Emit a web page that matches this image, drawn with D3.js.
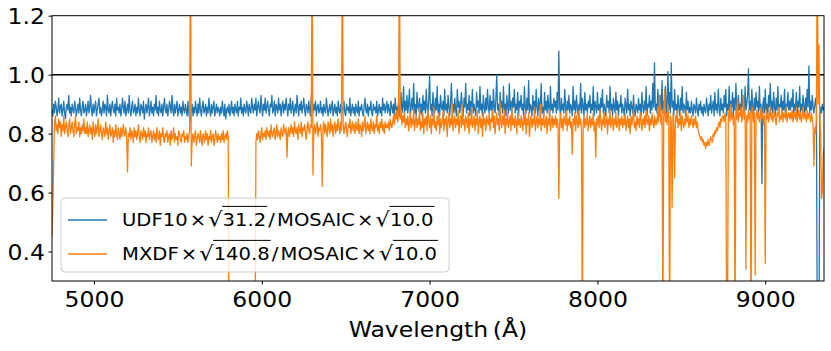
<!DOCTYPE html>
<html>
<head>
<meta charset="utf-8">
<script src="https://cdn.jsdelivr.net/npm/d3@7"></script>
<style>
  body { margin: 0; background: #fff; }
  svg { display: block; font-family: "DejaVu Sans", sans-serif; }
</style>
</head>
<body>
<div id="chart"></div>
<script>
// wavelength grid of the two ratio spectra (Angstrom)
const waveStart = 4750;
const waveStep = 5;

// UDF10 x sqrt(31.2) / MOSAIC x sqrt(10.0), one row per 100 A
const udf10 = [
  .88,.86,.90,.87,.91,.89,.86,.88,.92,.87,.89,.90,.86,.88,.91,.87,.85,.89,.90,.88,
  .93,.87,.89,.86,.90,.88,.87,.91,.89,.86,.88,.90,.87,.92,.88,.86,.89,.91,.87,.88,
  .90,.86,.88,.91,.87,.89,.93,.88,.86,.90,.87,.89,.91,.86,.88,.90,.92,.87,.89,.86,
  .88,.91,.87,.90,.89,.86,.93,.88,.87,.90,.86,.89,.91,.88,.87,.90,.86,.92,.88,.89,
  .87,.90,.86,.88,.92,.89,.87,.91,.86,.88,.90,.87,.93,.88,.86,.89,.91,.87,.88,.90,
  .86,.89,.87,.92,.88,.86,.90,.89,.87,.91,.85,.88,.90,.87,.89,.92,.86,.88,.91,.87,
  .89,.86,.90,.88,.93,.87,.89,.86,.91,.88,.87,.90,.86,.89,.92,.88,.87,.90,.86,.88,
  .91,.89,.87,.93,.88,.86,.90,.87,.89,.91,.86,.88,.90,.87,.89,.86,.91,.88,.87,.90,
  .88,.86,.91,.87,.85,.84,.88,.90,.86,.89,.87,.91,.88,.86,.90,.87,.92,.88,.86,.89,
  .91,.87,.88,.90,.86,.89,.87,.92,.88,.86,.90,.87,.89,.91,.86,.88,.90,.87,.89,.88,
  .86,.89,.87,.91,.88,.86,.90,.85,.88,.89,.87,.90,.86,.88,.91,.87,.89,.86,.90,.88,
  .87,.91,.86,.89,.88,.92,.87,.89,.86,.90,.88,.87,.91,.89,.86,.90,.88,.87,.92,.89,
  .87,.90,.88,.92,.86,.89,.91,.88,.87,.93,.89,.86,.90,.88,.92,.87,.89,.91,.88,.86,
  .90,.89,.93,.87,.88,.91,.86,.90,.89,.87,.92,.88,.90,.86,.89,.91,.87,.90,.88,.92,
  .89,.86,.90,.88,.92,.87,.89,.91,.86,.88,.90,.87,.93,.89,.86,.90,.88,.91,.87,.89,
  .92,.88,.86,.90,.89,.87,.91,.88,.86,.93,.89,.87,.90,.88,.91,.86,.89,.90,.87,.88,
  .91,.87,.89,.86,.90,.88,.87,.92,.89,.86,.88,.90,.87,.89,.91,.86,.88,.90,.87,.89,
  .86,.91,.88,.87,.90,.86,.89,.88,.91,.87,.86,.90,.88,.89,.87,.92,.86,.88,.90,.87,
  .89,.86,.90,.88,.87,.91,.86,.89,.88,.90,.87,.86,.89,.92,.88,.87,.90,.86,.89,.88,
  .91,.87,.86,.90,.88,.89,.87,.91,.86,.88,.90,.87,.89,.86,.92,.88,.90,.87,.89,.91,
  .87,.90,.88,.86,.91,.89,.87,.90,.86,.92,.88,.89,.87,.91,.86,.90,.94,.87,.89,.96,
  .86,.91,.88,.93,.87,.90,.95,.86,.89,.92,.88,.97,.87,.90,.86,.94,.89,.88,.92,.87,
  .90,.86,.93,.88,.91,.87,.95,.89,.86,.92,1.0,.88,.90,.86,.94,.89,.87,.92,.88,.96,
  .87,.90,.86,.93,.89,.88,.91,.86,.95,.88,.90,.87,.93,.89,.86,.91,.97,.88,.90,.87,
  .92,.88,.86,.95,.89,.91,.87,.90,.94,.88,.86,.92,.89,.97,.87,.90,.88,.93,.86,.91,
  .89,.95,.87,.90,.88,.86,.94,.89,.91,.87,.96,.88,.90,.86,.93,.89,.87,.92,.88,.95,
  .89,.87,.93,.88,.91,.86,.95,.89,.87,.92,1.0,.88,.90,.86,.94,.89,.91,.87,.96,.88,
  .90,.86,.93,.89,.87,.97,.88,.91,.86,.92,.89,.95,.87,.90,.88,.94,.86,.91,.89,.93,
  .88,.90,.86,.96,.89,.87,.92,.88,.98,.87,.90,.89,.86,.93,.88,.91,.87,.95,.89,.86,
  .92,.88,.90,.97,.87,.89,.86,.94,.88,.91,.87,.93,.89,.86,.96,.88,.90,.87,.92,.89,
  .91,.87,.94,.88,1.08,.89,.86,.92,.88,.90,.87,.95,.89,.86,.91,.88,.93,.87,.90,.89,
  .86,.96,.88,.91,.87,.93,.89,.86,.90,.88,.97,.87,.92,.89,.86,.94,.88,.90,.87,.91,
  .89,.93,.87,.90,.88,.96,.86,.91,.89,.87,.94,.88,.90,.86,.92,.89,.95,.87,.90,.88,
  .86,.93,.89,.91,.87,.96,.88,.90,.86,.92,.89,.87,.94,.88,.91,.86,.90,.89,.93,.87,
  .90,.88,.86,.92,.89,.87,.95,.88,.90,.86,.91,.89,.87,.93,.88,.86,.90,.89,.87,.92,
  .88,.90,.86,.94,.89,.87,.91,.88,.96,.86,.90,.89,.93,.87,.91,.88,.97,.89,1.04,.88,
  .90,.87,.95,.89,.86,.93,.88,.98,.87,.91,.89,.96,.86,.90,1.01,.88,.94,.87,1.04,.89,
  .91,.86,.95,.88,.90,.87,.93,.89,.86,.92,.88,.96,.87,.90,.89,.86,.94,.88,.91,.87,
  .89,.87,.91,.88,.86,.90,.89,.87,.92,.88,.86,.90,.88,.91,.87,.89,.86,.90,.88,.87,
  .92,.89,.86,.90,.88,.93,.87,.89,.91,.86,.94,.88,.90,.87,.95,.89,.86,.92,.88,.90,
  .87,.93,.89,.95,.86,.90,.88,.96,.87,.91,.89,.94,.86,.92,.88,.97,.89,.87,.93,.88,
  .90,.86,.95,.89,.91,.87,.96,.88,.90,.93,1.02,.88,.91,.87,.95,.89,.86,.92,.88,.94,
  .89,.91,.87,.96,.88,.90,.63,.89,.92,.87,.95,.88,.90,.86,.93,.89,.97,.88,.91,.87,
  .94,.89,.86,.92,.88,.96,.87,.90,.89,.93,.87,.91,.88,.95,.86,.90,.89,.94,.88,.91,
  .88,.92,.89,.95,.87,.90,.88,.94,.86,.91,.89,.96,.87,.90,.88,.93,.89,.86,.92,.88,
  .95,.89,1.03,.87,.91,.88,.93,.89,.87,.90,.92,.88,.10,.10,.10,.86,.89,.87,.90,.88,
  .89
];

// MXDF x sqrt(140.8) / MOSAIC x sqrt(10.0), one row per 100 A
const mxdf = [
  .45,.55,.70,.84,.86,.81,.83,.80,.85,.82,.84,.79,.83,.81,.86,.80,.82,.84,.81,.79,
  .83,.85,.80,.82,.84,.81,.79,.83,.86,.80,.82,.81,.84,.79,.82,.80,.83,.81,.85,.80,
  .82,.80,.84,.79,.81,.83,.80,.82,.78,.84,.81,.79,.83,.80,.82,.85,.79,.81,.83,.80,
  .78,.82,.81,.79,.84,.80,.82,.78,.81,.83,.79,.80,.82,.77,.81,.79,.83,.80,.78,.82,
  .80,.78,.82,.79,.81,.83,.79,.80,.82,.78,.67,.80,.79,.82,.78,.81,.80,.77,.82,.79,
  .81,.78,.80,.83,.79,.77,.81,.80,.78,.82,.79,.81,.77,.80,.79,.82,.78,.80,.81,.77,
  .79,.81,.78,.80,.77,.82,.79,.78,.81,.76,.80,.79,.82,.78,.77,.80,.79,.81,.77,.79,
  .80,.76,.81,.78,.79,.82,.77,.80,.78,.79,.76,.81,.80,.78,.77,.80,.79,.81,.77,.79,
  .78,.80,.77,.79,.81,1.5,.69,.78,.80,.77,.79,.81,.76,.78,.80,.79,.77,.81,.78,.76,
  .80,.79,.77,.81,.78,.80,.76,.79,.78,.81,.77,.79,.80,.76,.78,.81,.79,.77,.80,.78,
  .79,.77,.80,.78,.81,.77,.79,.80,.78,.81,.79,0,0,0,0,0,0,0,0,0,
  0,0,0,0,0,0,0,0,0,0,0,0,0,0,0,0,0,0,0,0,
  0,0,0,.77,.80,.78,.81,.79,.77,.80,.82,.78,.80,.79,.81,.78,.82,.80,.79,.81,
  .78,.83,.80,.79,.81,.82,.78,.80,.83,.79,.81,.80,.78,.82,.80,.79,.83,.81,.80,.82,
  .72,.80,.82,.79,.81,.83,.80,.82,.79,.84,.81,.80,.82,.78,.83,.81,.80,.84,.79,.82,
  .81,.83,.80,.78,.82,.84,.81,.80,.83,.82,1.5,.66,.81,.83,.80,.82,.84,.79,.82,.81,
  .83,.80,.62,.82,.84,.80,.83,.81,.79,.84,.82,.80,.85,.81,.83,.79,.82,.84,.80,.83,
  .81,.85,.82,.80,.84,.81,1.5,.83,.80,.82,.84,.81,.79,.83,.82,.85,.80,.82,.84,.81,
  .83,.80,.84,.82,.81,.85,.80,.83,.82,.79,.84,.81,.83,.86,.80,.82,.84,.81,.83,.80,
  .85,.82,.81,.84,.80,.83,.82,.86,.81,.83,.80,.84,.82,.85,.81,.83,.80,.84,.82,.83,
  .82,.84,.81,.85,.83,.82,.84,.86,.83,.87,.85,.88,.84,.86,1.5,.85,.88,.83,.86,.84,
  .87,.82,.85,.83,.86,.81,.84,.87,.82,.85,.83,.88,.81,.84,.86,.82,.85,.83,.89,.81,
  .84,.82,.87,.80,.85,.83,.86,.81,.88,.84,.82,.86,.80,.85,.83,.89,.82,.84,.81,.86,
  .83,.87,.80,.85,.82,.84,.88,.81,.85,.83,.86,.79,.84,.87,.82,.85,.83,.90,.81,.84,
  .86,.82,.85,.83,.88,.80,.84,.86,.82,.90,.83,.85,.81,.86,.84,.82,.87,.80,.85,.83,
  .89,.82,.84,.86,.81,.85,.83,.88,.80,.84,.86,.82,.85,.79,.87,.83,.85,.81,.86,.84,
  .83,.87,.81,.85,.84,.88,.82,.86,.80,.84,.87,.83,.85,.81,.91,.84,.82,.86,.83,.88,
  .80,.85,.83,.87,.82,.84,.86,.81,.89,.83,.85,.82,.86,.84,.80,.87,.83,.85,.82,.86,
  .84,.81,.86,.83,.88,.80,.85,.83,.87,.79,.84,.86,.82,.85,.83,.89,.81,.84,.86,.82,
  .85,.83,.90,.81,.85,.83,.87,.82,.84,.86,.80,.85,.83,.88,.81,.84,.86,.82,.85,.83,
  .86,.82,.85,.83,.58,.84,.87,.82,.85,.81,.86,.84,.83,.88,.81,.85,.83,.86,.82,.84,
  .73,.85,.83,.87,.81,.86,.84,.82,.88,.83,.85,.81,.10,.84,.86,.82,.85,.83,.87,.81,
  .84,.86,.82,.85,.83,.87,.81,.84,.72,.85,.83,.86,.82,.88,.84,.81,.85,.83,.87,.82,
  .84,.86,.80,.85,.83,.88,.82,.84,.86,.81,.85,.83,.87,.82,.84,.86,.81,.85,.83,.86,
  .82,.85,.83,.87,.81,.84,.86,.82,.85,.80,.86,.83,.85,.88,.82,.84,.81,.86,.83,.85,
  .82,.87,.84,.81,.85,.83,.86,.82,.88,.84,.83,.86,.81,.85,.83,.87,.84,.82,.86,.83,
  .85,.83,.89,.84,.93,.86,.83,.88,.10,.85,.95,.84,.87,.83,.90,.85,.10,.86,.84,.55,
  .87,.83,.65,.86,.84,.88,.82,.85,.83,.87,.81,.86,.84,.82,.85,.83,.88,.84,.86,.82,
  .85,.83,.86,.84,.82,.85,.83,.86,.82,.84,.81,.80,.79,.78,.79,.77,.78,.76,.77,.75,
  .77,.76,.78,.76,.77,.79,.78,.77,.80,.79,.81,.80,.82,.81,.83,.84,.82,.85,.84,.86,
  .86,.84,.87,.85,.10,.10,.86,.88,.84,.90,.85,.87,.83,.86,.10,.88,.85,.92,.84,.87,
  .86,.89,.84,.86,.93,.85,.87,.34,.86,.84,.88,.85,.87,.10,.86,.89,.84,.87,.32,.86,
  .88,.85,.87,.84,.86,.89,.85,.87,.83,.86,.36,.88,.85,.87,.84,.86,.89,.85,.87,.84,
  .86,.88,.85,.83,.87,.86,.89,.84,.86,.85,.88,.84,.87,.86,.85,.89,.84,.86,.87,.85,
  .87,.85,.88,.84,.86,.87,.85,.89,.84,.86,.88,.85,.87,.84,.86,.89,.85,.87,.86,.84,
  .88,.85,.87,.86,.84,.87,.85,.83,.69,.82,.80,.85,1.5,.90,1.1,.85,.80,.58,.60,.72,
  .75
];

const xTicks = [5000, 6000, 7000, 8000, 9000];
const yTicks = [0.4, 0.6, 0.8, 1.0, 1.2];
const seriesColors = ['#1f77b4', '#ff7f0e'];
// legend labels: plain text parts, operators and square-root parts
const legendParts = [
  [{t: 'UDF10'}, {op: '×'}, {sqrt: '31.2'}, {op: '/'}, {t: 'MOSAIC'}, {op: '×'}, {sqrt: '10.0'}],
  [{t: 'MXDF'}, {op: '×'}, {sqrt: '140.8'}, {op: '/'}, {t: 'MOSAIC'}, {op: '×'}, {sqrt: '10.0'}]
];

const W = 831, H = 351;
const margins = {top: 15.7, right: 7, bottom: 70, left: 52};
const width = W - margins.left - margins.right;
const height = H - margins.top - margins.bottom;
const stretch = 1.12;  // text in the figure is slightly wider than tall

const svg = d3.select('#chart').append('svg')
  .attr('width', W)
  .attr('height', H);

const g = svg.append('g')
  .attr('transform', `translate(${margins.left},${margins.top})`);

const xScale = d3.scaleLinear()
  .domain([4750, 9350])
  .range([0, width]);

const yScale = d3.scaleLinear()
  .domain([0.3, 1.2])
  .range([height, 0]);

svg.append('defs').append('clipPath')
  .attr('id', 'plot-clip')
  .append('rect')
  .attr('width', width)
  .attr('height', height);

// reference line at 1
g.append('line')
  .attr('x1', 0).attr('x2', width)
  .attr('y1', yScale(1)).attr('y2', yScale(1))
  .attr('stroke', '#000')
  .attr('stroke-width', 1.5);

const line = d3.line()
  .x((d, i) => xScale(waveStart + i * waveStep))
  .y(d => yScale(d));

const $lines = g.append('g').attr('clip-path', 'url(#plot-clip)');
[udf10, mxdf].forEach((s, k) => {
  $lines.append('path')
    .attr('d', line(s))
    .attr('fill', 'none')
    .attr('stroke', seriesColors[k])
    .attr('stroke-width', 1.3)
    .attr('stroke-linejoin', 'round');
});

// axes
const xAxis = d3.axisBottom(xScale)
  .tickValues(xTicks)
  .tickSize(3.5)
  .tickSizeOuter(0)
  .tickFormat(d3.format('d'));

const yAxis = d3.axisLeft(yScale)
  .tickValues(yTicks)
  .tickSize(3.5)
  .tickSizeOuter(0)
  .tickFormat(d3.format('.1f'));

const $x = g.append('g')
  .attr('transform', `translate(0,${height})`)
  .call(xAxis);

const $y = g.append('g').call(yAxis);

[$x, $y].forEach($a => {
  $a.select('.domain').remove();
  $a.selectAll('.tick line').attr('stroke', '#000').attr('stroke-width', 1);
  $a.selectAll('.tick text')
    .attr('fill', '#000')
    .style('font-size', '21px')
    .style('font-family', '"DejaVu Sans", sans-serif');
});

$x.selectAll('.tick text')
  .attr('y', 0).attr('dy', 0)
  .attr('transform', `translate(0,26) scale(${stretch},1)`);

$y.selectAll('.tick text')
  .attr('x', 0)
  .attr('dy', '0.36em')
  .attr('transform', `translate(-7,0) scale(${stretch},1)`);

// frame
g.append('rect')
  .attr('width', width)
  .attr('height', height)
  .attr('fill', 'none')
  .attr('stroke', '#000')
  .attr('stroke-width', 1);

g.append('text')
  .attr('text-anchor', 'middle')
  .attr('transform', `translate(${width / 2},${337 - margins.top}) scale(${stretch},1)`)
  .style('font-size', '21px')
  .attr('fill', '#000')
  .text('Wavelength\u2009(Å)');

// legend
const legendX = 61 - margins.left, legendY = 198 - margins.top;
const legendFont = 17.5;
const $legend = g.append('g');
const $box = $legend.append('rect')
  .attr('x', legendX).attr('y', legendY)
  .attr('rx', 4).attr('ry', 4)
  .attr('height', 74)
  .attr('fill', '#fff')
  .attr('fill-opacity', 0.8)
  .attr('stroke', '#ccc')
  .attr('stroke-width', 1);

let maxEnd = 0;
legendParts.forEach((parts, k) => {
  const cy = legendY + 22 + k * 34;
  $legend.append('line')
    .attr('x1', legendX + 7).attr('x2', legendX + 46)
    .attr('y1', cy).attr('y2', cy)
    .attr('stroke', seriesColors[k])
    .attr('stroke-width', 1.5);

  let cx = legendX + 61;
  const base = cy + 6;
  const piece = (txt, size) => {
    const t = $legend.append('text')
      .attr('transform', `translate(${cx},${base}) scale(${stretch},1)`)
      .style('font-size', (size || legendFont) + 'px')
      .attr('fill', '#000')
      .text(txt);
    const w = t.node().getComputedTextLength() * stretch;
    cx += w;
    return w;
  };
  parts.forEach(p => {
    if (p.op) {
      cx += legendFont * 0.12;
      piece(p.op);
      cx += legendFont * 0.12;
    } else if (p.sqrt) {
      piece('√', legendFont * 1.15);
      const x0 = cx;
      piece(p.sqrt);
      $legend.append('line')
        .attr('x1', x0 - 0.5).attr('x2', cx + 1)
        .attr('y1', base - legendFont * 1.12).attr('y2', base - legendFont * 1.12)
        .attr('stroke', '#000')
        .attr('stroke-width', 1);
    } else {
      piece(p.t);
    }
  });
  maxEnd = Math.max(maxEnd, cx);
});
$box.attr('width', maxEnd + 12 - legendX);
</script>
</body>
</html>
